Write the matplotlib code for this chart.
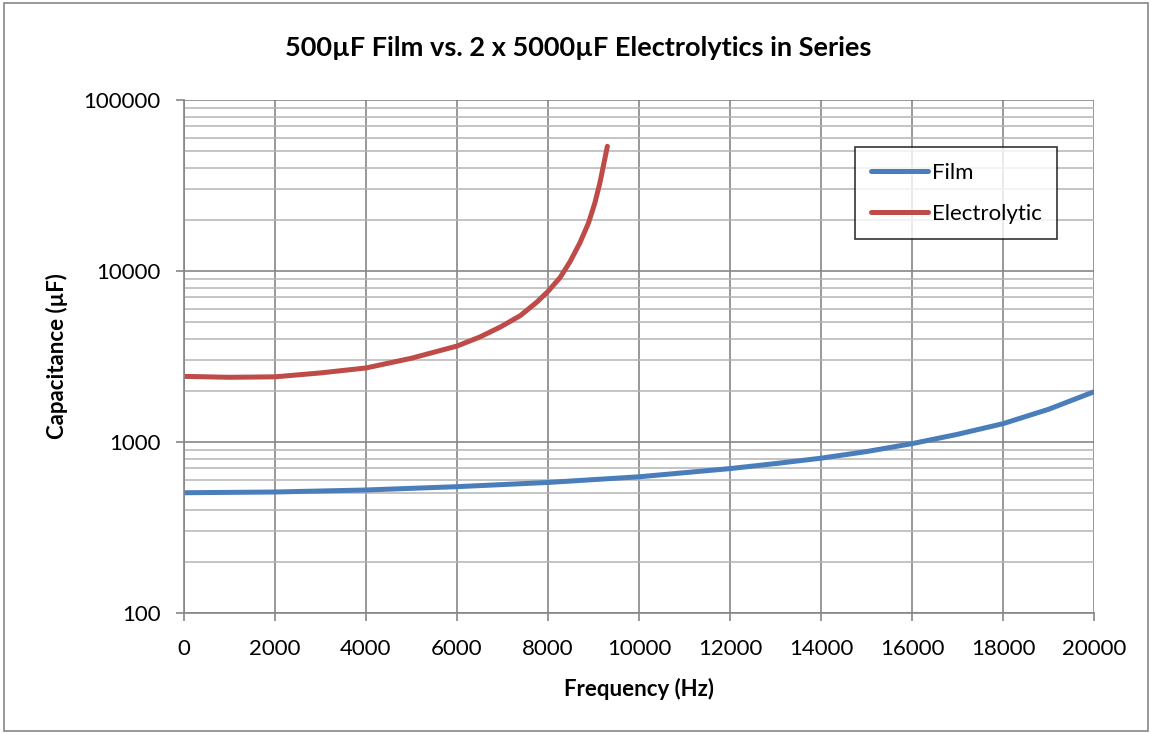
import matplotlib
matplotlib.use("Agg")
import matplotlib.pyplot as plt
from matplotlib.patches import Rectangle
from matplotlib.ticker import LogLocator, FixedLocator, NullFormatter

# Values
film_freq = [0, 2000, 4000, 6000, 8000, 10000, 12000, 13000, 14000, 15000, 16000, 17000, 18000, 19000, 20000]
film_cap = [505, 510, 524, 548, 580, 626, 699, 748, 804, 879, 978, 1109, 1280, 1553, 1967]

elec_freq = [0, 1000, 2000, 3000, 4000, 5000, 6000, 6500, 6950, 7390, 7750, 8000,
             8265, 8485, 8700, 8890, 9030, 9140, 9230, 9305]
elec_cap = [2420, 2390, 2405, 2535, 2710, 3090, 3640, 4110, 4700, 5480, 6560, 7600,
            9150, 11350, 14590, 19100, 25000, 32700, 42800, 53600]

x_ticks = [0, 2000, 4000, 6000, 8000, 10000, 12000, 14000, 16000, 18000, 20000]
y_ticks = [100, 1000, 10000, 100000]

plt.rcParams['font.family'] = ['Lato', 'DejaVu Sans']

fig = plt.figure(figsize=(11.51, 7.33), dpi=100)
ax = fig.add_axes([184/1151, 1 - 613/733, 910/1151, 513/733])

ax.plot(film_freq, film_cap, color='#4A7EBB', lw=3.6, label='Film',
        solid_capstyle='round', solid_joinstyle='round')
ax.plot(elec_freq, elec_cap, color='#BE4B48', lw=3.6, label='Electrolytic',
        solid_capstyle='round', solid_joinstyle='round')

ax.set_yscale('log')
ax.set_ylim(100, 100000)
ax.set_xlim(0, 20000)
ax.xaxis.set_major_locator(FixedLocator(x_ticks))
ax.set_xticklabels([str(v) for v in x_ticks])
ax.yaxis.set_major_locator(FixedLocator(y_ticks))
ax.set_yticklabels([str(v) for v in y_ticks])
ax.yaxis.set_minor_locator(LogLocator(base=10, subs=range(2, 10)))
ax.yaxis.set_minor_formatter(NullFormatter())

ax.grid(which='major', color='#868686', lw=1.2)
ax.grid(which='minor', axis='y', color='#B4B4B4', lw=1.1)
ax.set_axisbelow(True)

for side in ['top', 'right']:
    ax.spines[side].set_visible(False)
ax.spines['left'].set_color('#868686')
ax.spines['bottom'].set_color('#868686')
ax.spines['left'].set_linewidth(1.2)
ax.spines['bottom'].set_linewidth(1.2)
ax.tick_params(which='major', direction='out', length=6, width=1.2, color='#868686',
               labelsize=16)
ax.tick_params(axis='x', pad=13)
ax.tick_params(axis='y', pad=11)
ax.tick_params(which='minor', length=0)

ax.set_xlabel('Frequency (Hz)', fontsize=16, fontweight='bold', labelpad=13)
ax.set_ylabel('Capacitance (µF)', fontsize=16, fontweight='bold', labelpad=11)
fig.text(578/1151, 1 - 48/733, '500µF Film vs. 2 x 5000µF Electrolytics in Series',
         ha='center', va='center', fontsize=19.5, fontweight='bold')

leg = ax.legend(loc='upper left', bbox_to_anchor=((855 - 184)/910, (613 - 147)/513),
                fontsize=16, frameon=True, fancybox=False, edgecolor='black',
                handlelength=2.6, handletextpad=0.15, labelspacing=0.95,
                borderpad=0.7, borderaxespad=0)
leg.get_frame().set_linewidth(1.2)

fig.patches.append(Rectangle((4/1151, 2/733), 1144/1151, 728/733, transform=fig.transFigure,
                             fill=False, edgecolor='#888888', lw=1.2))

fig.savefig('out.png', dpi=100)
